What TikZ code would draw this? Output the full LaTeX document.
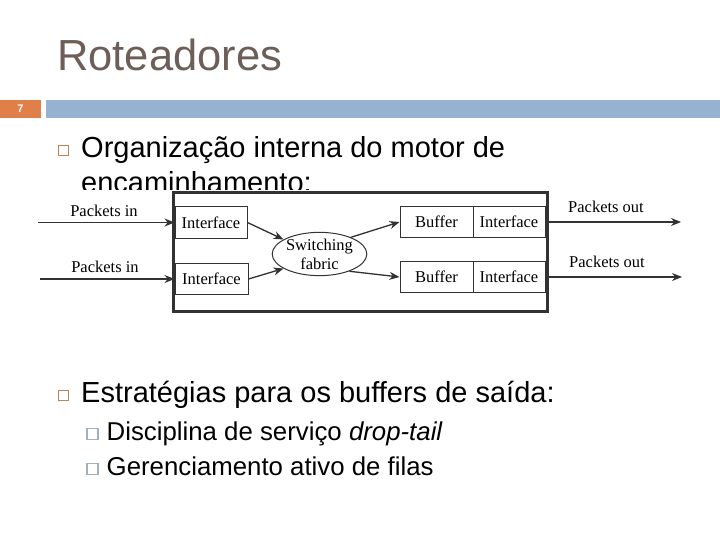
\documentclass[tikz,border=0pt]{standalone}
\usepackage{fontspec}
\setmainfont{Liberation Sans}
\newfontfamily\diagfont{Liberation Serif}
\usetikzlibrary{arrows.meta,shapes.geometric}
\definecolor{titlecol}{RGB}{110,94,88}
\definecolor{numorange}{RGB}{224,128,72}
\definecolor{barblue}{RGB}{149,179,208}
\definecolor{bulorange}{RGB}{190,130,90}
\definecolor{bulgray}{RGB}{160,176,190}
\definecolor{diagline}{RGB}{50,50,50}
\begin{document}
\begin{tikzpicture}[x=1pt,y=-1pt,
  box/.style={draw=diagline,line width=1pt,minimum height=31pt,inner sep=0pt,font=\diagfont\fontsize{16.5}{18}\selectfont},
  conn/.style={draw=diagline,line width=1.3pt,-{Stealth[length=10pt,width=8pt]}},
  lbl/.style={font=\diagfont\fontsize{16.5}{18}\selectfont,inner sep=0pt},
  mainbul/.style={draw=bulorange,line width=1.3pt,minimum size=10pt,inner sep=0pt},
  subbul/.style={draw=bulgray,line width=1.1pt,minimum size=11pt,inner sep=0pt},
  maintxt/.style={anchor=base west,inner sep=0pt,font=\fontsize{29}{34}\selectfont},
  subtxt/.style={anchor=base west,inner sep=0pt,font=\fontsize{25.8}{30}\selectfont}]
\useasboundingbox (0,0) rectangle (720,540);
\fill[white] (0,0) rectangle (720,540);
% title
\node[anchor=base west,inner sep=0pt,text=titlecol,font=\fontsize{43.5}{50}\selectfont] (title) at (57,71) {Roteadores};
% bar
\fill[numorange] (0,100) rectangle (41,118);
\fill[barblue] (46,100) rectangle (720,118);
\node[text=white,font=\fontsize{11}{12}\selectfont\bfseries] (num) at (20.5,109) {7};
% bullet 1
\node[mainbul] (b1) at (63.5,150.5) {};
\node[maintxt] (t1) at (81,158) {Organização interna do motor de};
\node[maintxt] (t1b) at (81,193) {encaminhamento:};
% image area (covers clipped line)
\fill[white] (30,190) rectangle (720,318);
% diagram
\draw[diagline,line width=3pt] (173,193) rectangle (547,311);
\node[box,minimum width=72pt] (if1) at (211,222.5) {Interface};
\node[box,minimum width=73pt] (if2) at (211.5,279) {Interface};
\node[draw=diagline,line width=1pt,ellipse,minimum width=90pt,minimum height=40pt,inner sep=0pt,align=center,font=\diagfont\fontsize{16.5}{19}\selectfont] (sw) at (319.5,254) {Switching\\fabric};
\node[box,minimum width=73pt] (buf1) at (436.5,222) {Buffer};
\node[box,minimum width=72pt] (ifo1) at (509,222) {Interface};
\node[box,minimum width=73pt] (buf2) at (436.5,277) {Buffer};
\node[box,minimum width=72pt] (ifo2) at (509,277) {Interface};
\draw[conn] (if1.east) -- (sw.158);
\draw[conn] (if2.east) -- (sw.202);
\draw[conn] (sw.28) -- (buf1.west);
\draw[conn] (sw.-30) -- (buf2.west);
\coordinate (in1) at (38,222.5);
\coordinate (in2) at (40,279);
\coordinate (out1) at (681,222);
\coordinate (out2) at (682,277);
\draw[conn] (in1) -- (if1.west);
\draw[conn] (in2) -- (if2.west);
\draw[conn] (ifo1.east) -- (out1);
\draw[conn] (ifo2.east) -- (out2);
\node[lbl] (lin1) at (104,211) {Packets in};
\node[lbl] (lin2) at (105,267) {Packets in};
\node[lbl] (lout1) at (606,207) {Packets out};
\node[lbl] (lout2) at (607,262) {Packets out};
% bullet 2
\node[mainbul] (b2) at (63.5,395.5) {};
\node[maintxt] (t2) at (81,402) {Estratégias para os buffers de saída:};
\node[subbul] (s1) at (92.5,434) {};
\node[subtxt] (st1) at (106.5,440) {Disciplina de serviço \textit{drop-tail}};
\node[subbul] (s2) at (92.5,469) {};
\node[subtxt] (st2) at (106.5,475) {Gerenciamento ativo de filas};
\end{tikzpicture}
\end{document}
